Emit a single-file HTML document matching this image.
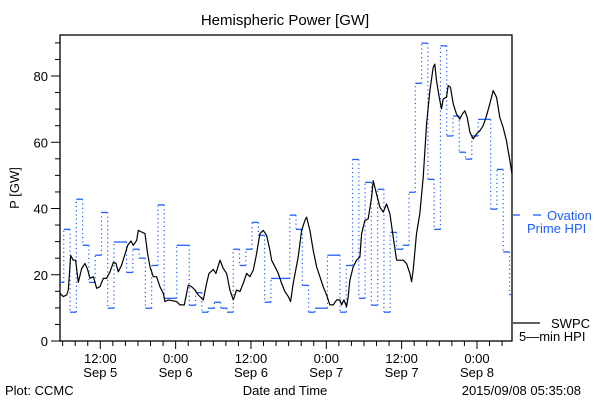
<!DOCTYPE html>
<html><head><meta charset="utf-8"><style>
html,body{margin:0;padding:0;background:#fff;}
svg{display:block;font-family:"Liberation Sans",sans-serif;}
</style></head><body>
<svg id="chart" width="600" height="400">
<text x="285" y="25" text-anchor="middle" font-size="15">Hemispheric Power [GW]</text>
<text transform="translate(19,188) rotate(-90)" text-anchor="middle" font-size="13">P [GW]</text>
<text x="285" y="395" text-anchor="middle" font-size="13">Date and Time</text>
<text x="5" y="395" font-size="13">Plot: CCMC</text>
<text x="581" y="395" text-anchor="end" font-size="13">2015/09/08 05:35:08</text>
<g id="axes"></g>
<g id="ovation"></g>
<g id="swpc"></g>
<g>
<g>
<line x1="513" y1="215" x2="520" y2="215" stroke="#1f5fff" stroke-width="1.3"/>
<line x1="533" y1="215" x2="541" y2="215" stroke="#1f5fff" stroke-width="1.3"/>
<text x="547" y="220" font-size="13" fill="#1f5fff">Ovation</text>
<text x="527" y="233" font-size="13" fill="#1f5fff">Prime HPI</text>
</g>
<g>
<line x1="513" y1="323" x2="540" y2="323" stroke="#000" stroke-width="1.3"/>
<text x="551" y="328" font-size="13">SWPC</text>
<text x="519" y="341" font-size="13">5—min HPI</text>
</g>
</g>
</svg>
<script>
const yTicks=[0,20,40,60,80];
const xTickHours=[6.42,18.42,30.42,42.42,54.42,66.42];
const xTickTime=["12:00","0:00","12:00","0:00","12:00","0:00"];
const xTickDate=["Sep 5","Sep 6","Sep 6","Sep 7","Sep 7","Sep 8"];
const ovationValues=[17.7,33.7,8.7,42.8,28.9,17.7,25.9,38.8,9.9,29.9,29.9,20.7,27.7,25.0,9.9,22.8,41.1,12.9,12.9,28.9,28.9,10.8,14.6,8.7,9.9,11.7,9.9,8.7,27.7,22.8,27.7,35.8,31.9,11.7,18.9,18.9,18.9,38.0,33.7,16.8,8.7,9.9,9.9,25.9,25.9,8.7,22.8,54.8,12.9,47.9,10.8,45.8,8.7,32.8,27.7,28.9,44.9,77.8,89.9,48.8,33.7,89.1,61.9,67.9,57.0,54.9,61.9,66.9,66.9,39.8,51.8,26.9,14.0];
const swpcHours=[0,0.53,1.06,1.33,1.7,2.12,2.49,2.92,3.45,3.98,4.35,4.78,5.31,5.84,6.37,6.9,7.43,7.96,8.49,8.92,9.29,9.82,10.35,10.78,11.31,11.68,12.21,12.47,13.0,13.54,13.96,14.33,14.86,15.39,15.92,16.45,16.72,17.25,17.78,18.58,19.11,19.8,20.44,20.97,21.5,22.03,22.82,23.35,23.73,24.42,24.84,25.48,26.01,26.54,27.07,27.6,28.13,28.66,29.19,29.72,30.25,30.79,31.32,31.85,32.38,32.91,33.44,33.7,34.24,34.77,35.3,35.83,36.36,36.73,37.15,37.95,38.48,39.01,39.28,39.81,40.34,40.87,41.4,41.93,42.46,42.99,43.52,44.06,44.59,44.85,45.22,45.65,45.91,46.18,46.71,47.24,47.77,48.04,48.57,49.1,49.63,49.89,50.42,50.96,51.49,52.02,52.55,53.08,53.61,54.14,54.67,55.2,55.73,56.0,56.26,56.79,57.32,57.86,58.39,58.92,59.45,59.71,59.98,60.4,60.77,61.04,61.57,61.84,62.21,62.63,63.16,63.69,64.06,64.49,64.86,65.29,65.82,66.35,66.88,67.41,67.94,68.47,69.0,69.53,70.06,70.59,71.13,71.66,72.0];
const swpcValues=[14.4,13.4,13.9,15.4,25.8,24.4,24.4,17.7,21.9,23.4,21.9,18.9,19.4,15.9,16.4,18.9,18.9,20.9,23.7,23.4,20.9,22.9,26.2,28.9,30.2,28.9,30.4,33.4,32.9,32.4,26.4,22.4,19.4,19.4,16.4,14.4,11.9,12.4,12.2,11.9,10.9,10.9,16.9,16.4,15.4,13.9,12.4,17.4,20.4,21.6,20.4,24.4,21.9,20.4,15.4,12.4,15.4,14.9,17.4,20.4,19.4,21.4,26.4,32.4,33.4,31.9,27.4,24.4,22.4,20.4,17.4,14.9,13.4,11.9,17.4,25.4,33.4,36.4,37.4,33.4,27.4,22.4,19.4,16.4,13.9,10.9,10.9,12.4,12.4,10.9,12.4,10.4,13.4,18.4,22.4,24.4,25.4,32.4,36.4,36.9,43.4,48.4,44.4,40.4,38.9,41.4,38.4,31.4,24.4,24.4,24.4,23.4,20.4,17.9,21.4,32.4,38.4,49.4,65.6,75.6,82.6,83.6,78.6,73.6,70.1,73.1,73.6,77.1,76.6,71.6,68.5,67.0,68.5,69.5,67.5,63.0,61.0,62.5,63.5,65.0,68.0,71.6,75.6,73.6,67.5,64.5,60.4,54.4,50.4];

const NS="http://www.w3.org/2000/svg";
const L=60,R=512,T=35,B=341,HOURS=72,YMAX=(B-T)/3.3125;
const xs=h=>L+(R-L)*h/HOURS;
const ys=v=>B-(B-T)*v/YMAX;
function mk(tag,attrs,parent){const e=document.createElementNS(NS,tag);for(const k in attrs)e.setAttribute(k,attrs[k]);parent.appendChild(e);return e;}
const axes=document.getElementById('axes');
const frame=mk('rect',{x:L,y:T,width:R-L,height:B-T,fill:'none',stroke:'#000','stroke-width':1.3},axes);


for(let v=0;v<=YMAX;v+=5){
  const major=v%20===0;
  const t=mk('line',{x1:L-(major?9:5),x2:L,y1:ys(v),y2:ys(v),stroke:'#000','stroke-width':1},axes);
  
  
}
yTicks.forEach(v=>{
  const t=mk('text',{x:L-12,y:ys(v)+5,'text-anchor':'end','font-size':13},axes);
  t.textContent=v;
  
  
});
for(let h=0.42;h<HOURS;h+=2){
  const major=Math.abs(((h-6.42)%12+12)%12)<0.01||Math.abs(((h-6.42)%12+12)%12-12)<0.01;
  const t=mk('line',{x1:xs(h),x2:xs(h),y1:B,y2:B+(major?8:5),stroke:'#000','stroke-width':1},axes);
  
  
}
xTickHours.forEach((h,i)=>{
  const a=mk('text',{x:xs(h),y:363,'text-anchor':'middle','font-size':13},axes);
  a.textContent=xTickTime[i];
  
  
  const b=mk('text',{x:xs(h),y:377,'text-anchor':'middle','font-size':13},axes);
  b.textContent=xTickDate[i];
  
  
});
const ov=document.getElementById('ovation');
const t0=0.6;
let prevY=null;
ovationValues.forEach((v,k)=>{
  const h1=Math.max(0,t0+k-1),h2=Math.min(HOURS,t0+k);
  const y=ys(v);
  if(prevY!==null){
    const d=mk('line',{x1:xs(h1),x2:xs(h1),y1:prevY,y2:y,stroke:'#1f5fff','stroke-width':1.2,'stroke-dasharray':'1.2,3'},ov);
    
    
  }
  const s=mk('line',{x1:xs(h1),x2:xs(h2),y1:y,y2:y,stroke:'#1f5fff','stroke-width':1.3},ov);
  
  
  prevY=y;
});
const sw=document.getElementById('swpc');
const pts=swpcHours.map((h,i)=>xs(h).toFixed(1)+','+ys(swpcValues[i]).toFixed(1)).join(' ');
const pl=mk('polyline',{points:pts,fill:'none',stroke:'#000','stroke-width':1.2,'stroke-linejoin':'round'},sw);


</script>
</body></html>
